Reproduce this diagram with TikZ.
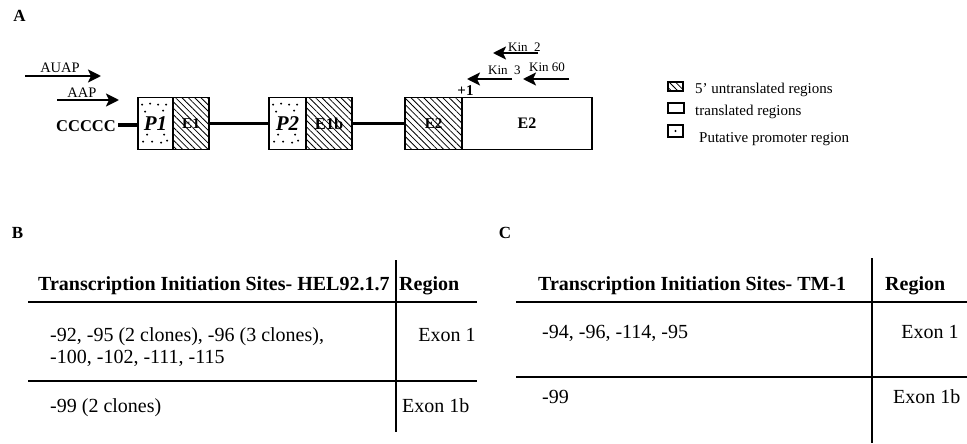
\documentclass[tikz,border=0pt]{standalone}
\usepackage{fontspec}
\setmainfont{Liberation Serif}
\usetikzlibrary{patterns.meta,arrows.meta}
\tikzset{
  hatch/.style={pattern={Lines[angle=-45,distance=4.5pt,line width=0.8pt]}},
  gbox/.style={draw, line width=1.8pt, minimum height=52pt, inner sep=0pt},
  link/.style={line width=3.4pt},
  primer/.style={line width=2pt, -{Stealth[length=13pt,width=13pt,inset=3pt]}},
  plab/.style={font=\fontsize{14.5}{16}\selectfont, inner sep=0pt, anchor=base},
  klab/.style={font=\fontsize{13}{15}\selectfont, inner sep=0pt, anchor=base west},
  panel/.style={font=\fontsize{17}{20}\selectfont\bfseries, inner sep=0pt},
  lgbox/.style={draw, line width=1.5pt, inner sep=0pt},
  lgtxt/.style={font=\fontsize{15}{17}\selectfont, inner sep=0pt, anchor=base west},
  thead/.style={font=\fontsize{20}{24}\selectfont\bfseries, inner sep=0pt, anchor=base west},
  ttxt/.style={font=\fontsize{20}{24}\selectfont, inner sep=0pt, anchor=base west},
  rule/.style={line width=1.3pt},
  vrule/.style={line width=1.4pt}
}
\begin{document}
\begin{tikzpicture}[x=1pt,y=-1pt]
\useasboundingbox (0,0) rectangle (967,444);

% ---------- Panel A ----------
\node[panel] (labA) at (19.5,16) {A};

% primers (forward)
\coordinate (auapS) at (25,76);
\coordinate (auapE) at (101,76);
\draw[primer] (auapS) -- (auapE);
\node[plab] (auap) at (60,73) {AUAP};
\coordinate (aapS) at (57,100);
\coordinate (aapE) at (119,100);
\draw[primer] (aapS) -- (aapE);
\node[plab] (aap) at (82,97) {AAP};

% gene boxes
\node[font=\fontsize{16.5}{18}\selectfont\bfseries, inner sep=0pt, anchor=base east] (ccc) at (116,131) {CCCCC};
\node[gbox, minimum width=35pt] (P1) at (155.5,123.5) {};
\node[gbox, minimum width=36pt, hatch] (E1) at (191,123.5) {};
\node[gbox, minimum width=37pt] (P2) at (287.5,123.5) {};
\node[gbox, minimum width=46pt, hatch] (E1b) at (329,123.5) {};
\node[gbox, minimum width=57pt, hatch] (E2a) at (433.5,123.5) {};
\node[gbox, minimum width=130pt] (E2b) at (527,123.5) {};

% dots in promoter boxes
\foreach \b in {P1,P2}{
  \foreach \dx/\dy in {5/8,13/7,21/8,29/8,8/15,26/14,6/45,15/45,24/46,30/44,10/38,27/38}{
    \fill ([shift={(\dx,\dy)}]\b.north west) circle (1.1);
  }
}

% box labels
\node[font=\fontsize{21}{23}\selectfont\bfseries\itshape, inner sep=0pt] (tP1) at (P1.center) {P1};
\node[font=\fontsize{15}{17}\selectfont\bfseries, inner sep=0pt] (tE1) at (E1.center) {E1};
\node[font=\fontsize{21}{23}\selectfont\bfseries\itshape, inner sep=0pt] (tP2) at (P2.center) {P2};
\node[font=\fontsize{16.5}{18}\selectfont\bfseries, inner sep=0pt] (tE1b) at (E1b.center) {E1b};
\node[font=\fontsize{15}{17}\selectfont\bfseries, inner sep=0pt] (tE2a) at (E2a.center) {E2};
\node[font=\fontsize{16}{18}\selectfont\bfseries, inner sep=0pt] (tE2b) at (E2b.center) {E2};

% intron links
\draw[link] (118,125) -- (P1.west |- 0,125);
\draw[link] (E1.east) -- (P2.west);
\draw[link] (E1b.east) -- (E2a.west);

% +1
\node[font=\fontsize{15}{17}\selectfont\bfseries, inner sep=0pt] (plus1) at (465.5,90.5) {+1};

% reverse primers
\coordinate (k2S) at (538,53);
\coordinate (k2E) at (493,53);
\draw[primer] (k2S) -- (k2E);
\node[klab] (k2) at (508,52) {Kin\ \ 2};
\coordinate (k3S) at (512,79);
\coordinate (k3E) at (467,79);
\draw[primer] (k3S) -- (k3E);
\node[klab] (k3) at (488,75) {Kin\ \ 3};
\coordinate (k60S) at (569,79);
\coordinate (k60E) at (523,79);
\draw[primer] (k60S) -- (k60E);
\node[klab] (k60) at (529,72) {Kin 60};

% legend
\node[lgbox, hatch, minimum width=15pt, minimum height=9pt] (lg1) at (675.5,86.5) {};
\node[lgtxt] (lt1) at (695,94) {5’ untranslated regions};
\node[lgbox, minimum width=16pt, minimum height=10pt] (lg2) at (676,108) {};
\node[lgtxt] (lt2) at (695,115) {translated regions};
\node[lgbox, minimum width=15pt, minimum height=12pt] (lg3) at (675.5,131) {};
\fill (lg3.center) circle (1.1);
\node[lgtxt] (lt3) at (699,142) {Putative promoter region};

% ---------- Panel B ----------
\node[panel] (labB) at (17.5,233) {B};
\node[thead] (hB1) at (38,290) {Transcription Initiation Sites- HEL92.1.7};
\node[thead] (hB2) at (399,290) {Region};
\draw[rule] (28,302) -- (477,302);
\draw[rule] (28,381) -- (477,381);
\draw[vrule] (396,260) -- (396,432);
\node[ttxt] (b11) at (50,341) {-92, -95 (2 clones), -96 (3 clones),};
\node[ttxt] (b12) at (50,363) {-100, -102, -111, -115};
\node[ttxt, anchor=base] (b13) at (447,341) {Exon 1};
\node[ttxt] (b21) at (50,412) {-99 (2 clones)};
\node[ttxt] (b22) at (402,412) {Exon 1b};

% ---------- Panel C ----------
\node[panel] (labC) at (505,233) {C};
\node[thead] (hC1) at (538,290) {Transcription Initiation Sites- TM-1};
\node[thead] (hC2) at (885,290) {Region};
\draw[rule] (516,302) -- (967,302);
\draw[rule] (516,377) -- (967,377);
\draw[vrule] (872,258) -- (872,443);
\node[ttxt] (c11) at (542,338) {-94, -96, -114, -95};
\node[ttxt, anchor=base] (c12) at (930,338) {Exon 1};
\node[ttxt] (c21) at (542,403) {-99};
\node[ttxt] (c22) at (893,403) {Exon 1b};
\end{tikzpicture}
\end{document}
